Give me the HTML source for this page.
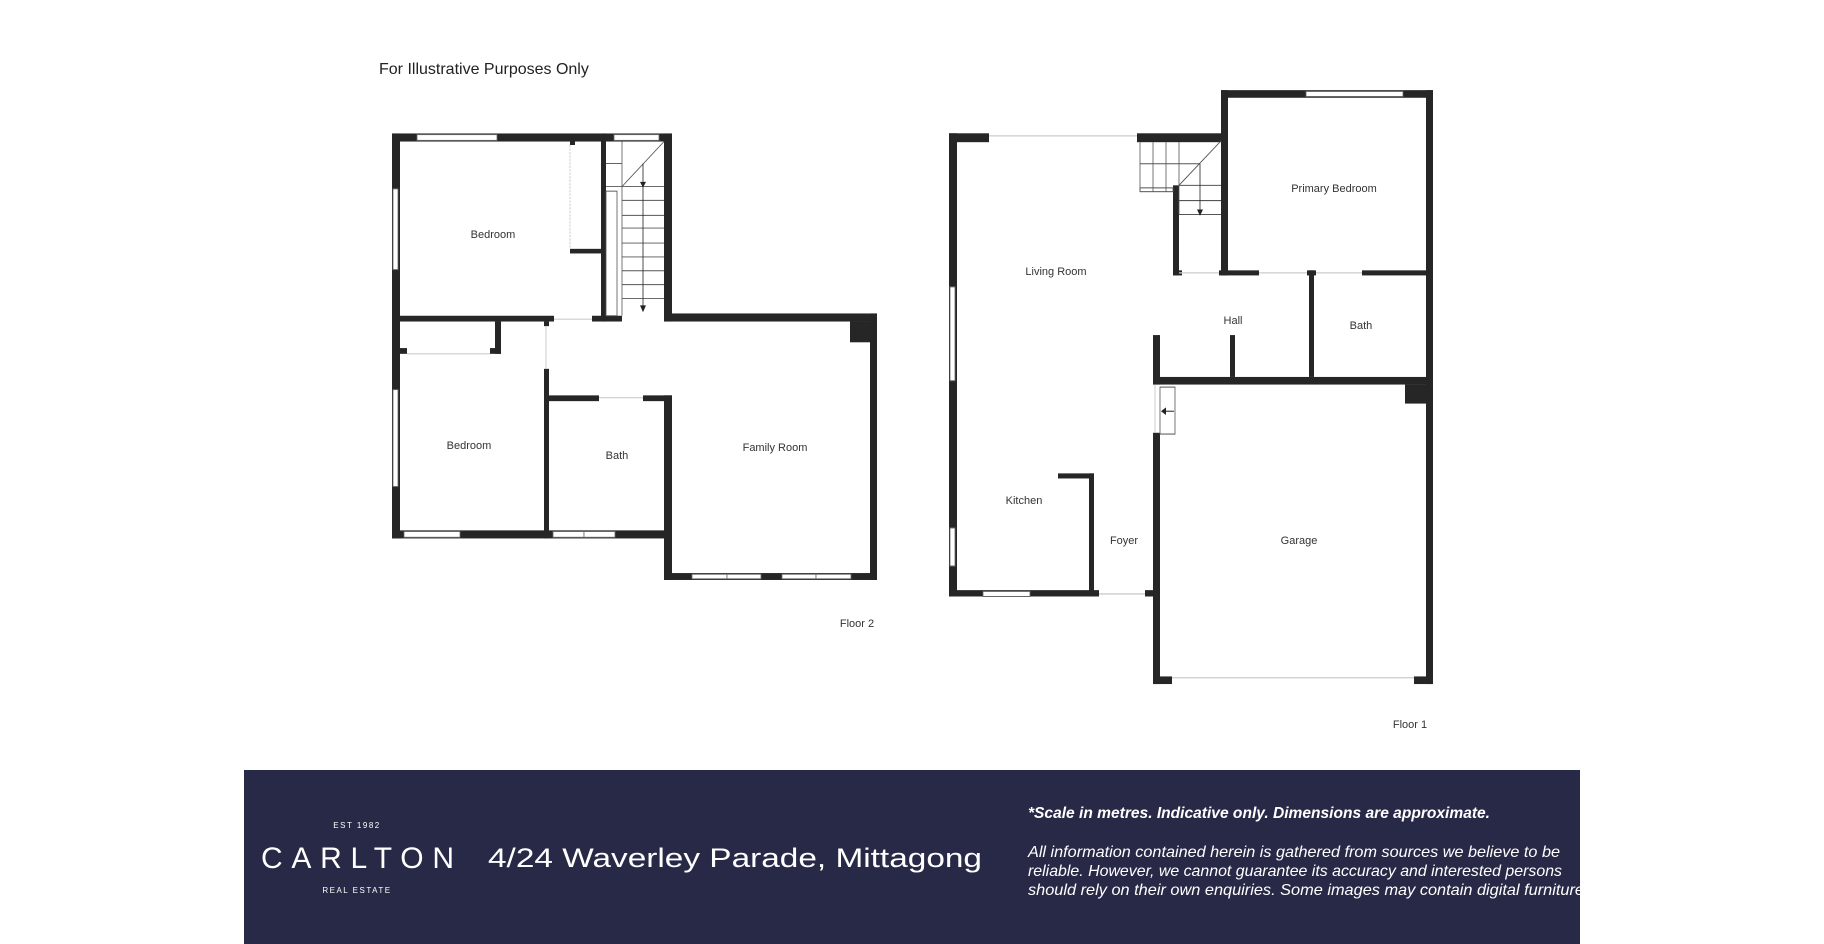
<!DOCTYPE html>
<html><head><meta charset="utf-8"><style>
html,body{margin:0;padding:0;background:#fff;}
body{width:1824px;height:944px;position:relative;overflow:hidden;font-family:"Liberation Sans",sans-serif;}
svg{position:absolute;left:0;top:0;}
.lbl{font-family:"Liberation Sans",sans-serif;font-size:11px;fill:#333;text-anchor:middle;dominant-baseline:middle;}
</style></head><body>
<svg width="1824" height="944" viewBox="0 0 1824 944">
<text x="379" y="74" font-family="Liberation Sans,sans-serif" font-size="16" fill="#222">For Illustrative Purposes Only</text>
<!-- FLOOR 2 -->
<g transform="translate(0,40) scale(1,1.1538) translate(0,-40)">
<g fill="#262626">
<rect x="392" y="121" width="280" height="7"/>
<rect x="392" y="121" width="8" height="351"/>
<rect x="664" y="121" width="8" height="163"/>
<rect x="664" y="277" width="213" height="7"/>
<rect x="870" y="277" width="7" height="231"/>
<rect x="664" y="502" width="213" height="6"/>
<rect x="664" y="348" width="8" height="160"/>
<rect x="850" y="284" width="20" height="18"/>
<rect x="392" y="465" width="280" height="7"/>
<rect x="392" y="279" width="162" height="5"/>
<rect x="592" y="279" width="30" height="5"/>
<rect x="601" y="121" width="5" height="163"/>
<rect x="570" y="221" width="31" height="4"/>
<rect x="570" y="127" width="5" height="4"/>
<rect x="495" y="284" width="6" height="28"/>
<rect x="490" y="307" width="11" height="5"/>
<rect x="400" y="307" width="7" height="5"/>
<rect x="544" y="284" width="5" height="4"/>
<rect x="544" y="325" width="5" height="147"/>
<rect x="544" y="348" width="55" height="5"/>
<rect x="643" y="348" width="29" height="5"/>
</g>
<g fill="#fff" stroke="#666" stroke-width="0.8">
<rect x="417" y="122" width="80" height="5"/><rect x="614" y="122" width="45" height="5"/>
<rect x="393" y="169" width="5" height="70"/><rect x="393" y="343" width="5" height="84"/>
<rect x="404" y="466" width="56" height="5"/>
<rect x="553" y="466" width="31" height="5"/><rect x="584" y="466" width="31" height="5"/>
<rect x="692" y="503" width="35" height="4"/><rect x="727" y="503" width="34" height="4"/>
<rect x="782" y="503" width="34" height="4"/><rect x="816" y="503" width="35" height="4"/>
</g>
<g stroke="#ccc" stroke-width="1" fill="none">
<line x1="570" y1="131" x2="570" y2="221" stroke-dasharray="2,1"/>
<line x1="407" y1="312" x2="490" y2="312"/>
<line x1="554" y1="282" x2="592" y2="282"/>
<line x1="546" y1="288" x2="546" y2="325"/>
<line x1="599" y1="350" x2="643" y2="350"/>
</g>
<g stroke="#555" stroke-width="0.8" fill="none">
<rect x="606" y="171" width="11" height="108"/>
<line x1="622" y1="128" x2="622" y2="279"/>
<line x1="606" y1="147" x2="622" y2="147"/><line x1="606" y1="167" x2="664" y2="167"/>
<line x1="622" y1="167" x2="664" y2="128"/>
<line x1="622" y1="179" x2="664" y2="179"/><line x1="622" y1="192" x2="664" y2="192"/>
<line x1="622" y1="203" x2="664" y2="203"/><line x1="622" y1="216" x2="664" y2="216"/>
<line x1="622" y1="228" x2="664" y2="228"/><line x1="622" y1="240" x2="664" y2="240"/>
<line x1="622" y1="252" x2="664" y2="252"/><line x1="622" y1="264" x2="664" y2="264"/>
<line x1="643" y1="147" x2="643" y2="274" stroke="#222"/>
</g>
<g fill="#222">
<polygon points="640,163 646,163 643,168"/>
<polygon points="640,270 646,270 643,276"/>
</g>
</g>
<!-- FLOOR 1 -->
<g transform="translate(0,80) scale(1,1.269) translate(0,-80)">
<g fill="#262626">
<rect x="949" y="122" width="8" height="365"/>
<rect x="949" y="122" width="40" height="7"/>
<rect x="1137" y="122" width="84" height="7"/>
<rect x="1221" y="88" width="7" height="146"/>
<rect x="1221" y="88" width="212" height="6"/>
<rect x="1426" y="88" width="7" height="468"/>
<rect x="1219" y="230" width="40" height="4"/>
<rect x="1307" y="230" width="9" height="4"/>
<rect x="1362" y="230" width="64" height="4"/>
<rect x="1173" y="163" width="6" height="71"/>
<rect x="1173" y="230" width="9" height="4"/>
<rect x="1309" y="230" width="5" height="84"/>
<rect x="1230" y="281" width="5" height="33"/>
<rect x="1153" y="314" width="280" height="6"/>
<rect x="1405" y="320" width="21" height="15"/>
<rect x="1153" y="281" width="7" height="39"/>
<rect x="1153" y="358" width="7" height="198"/>
<rect x="1153" y="550" width="19" height="6"/>
<rect x="1414" y="550" width="19" height="6"/>
<rect x="949" y="482" width="150" height="5"/>
<rect x="1145" y="482" width="15" height="5"/>
<rect x="1089" y="390" width="5" height="97"/>
<rect x="1058" y="390" width="36" height="4"/>
</g>
<g fill="#fff" stroke="#666" stroke-width="0.8">
<rect x="950" y="243" width="5" height="74"/><rect x="950" y="433" width="5" height="30"/>
<rect x="983" y="483" width="47" height="4"/>
<rect x="1306" y="89" width="97" height="4"/>
</g>
<g stroke="#ccc" stroke-width="1" fill="none">
<line x1="989" y1="124" x2="1137" y2="124"/>
<line x1="1179" y1="232" x2="1219" y2="232"/>
<line x1="1259" y1="232" x2="1307" y2="232"/>
<line x1="1316" y1="232" x2="1362" y2="232"/>
<line x1="1172" y1="551" x2="1414" y2="551"/>
<line x1="1099" y1="485" x2="1145" y2="485"/>
<line x1="1155" y1="320" x2="1155" y2="358"/>
</g>
<g stroke="#555" stroke-width="0.8" fill="none">
<line x1="1140" y1="129" x2="1140" y2="168"/><line x1="1153" y1="129" x2="1153" y2="168"/>
<line x1="1166" y1="129" x2="1166" y2="168"/><line x1="1179" y1="129" x2="1179" y2="186"/>
<line x1="1140" y1="146" x2="1200" y2="146"/>
<rect x="1140" y="165" width="33" height="3"/>
<line x1="1179" y1="163" x2="1221" y2="128"/>
<line x1="1179" y1="163" x2="1221" y2="163"/><line x1="1179" y1="175" x2="1221" y2="175"/>
<line x1="1179" y1="186" x2="1221" y2="186"/>
<line x1="1200" y1="146" x2="1200" y2="182" stroke="#222"/>
<rect x="1160" y="322" width="15" height="37"/>
<line x1="1164" y1="341" x2="1174" y2="341" stroke="#222"/>
</g>
<g fill="#222">
<polygon points="1197,182 1203,182 1200,187"/>
<polygon points="1161,341 1166,338 1166,344"/>
</g>
</g>
<text class="lbl" x="493" y="235">Bedroom</text>
<text class="lbl" x="469" y="446">Bedroom</text>
<text class="lbl" x="617" y="456">Bath</text>
<text class="lbl" x="775" y="448">Family Room</text>
<text class="lbl" x="857" y="624">Floor 2</text>
<text class="lbl" x="1056" y="272">Living Room</text>
<text class="lbl" x="1334" y="189">Primary Bedroom</text>
<text class="lbl" x="1233" y="321">Hall</text>
<text class="lbl" x="1361" y="326">Bath</text>
<text class="lbl" x="1024" y="501">Kitchen</text>
<text class="lbl" x="1124" y="541">Foyer</text>
<text class="lbl" x="1299" y="541">Garage</text>
<text class="lbl" x="1410" y="725">Floor 1</text>
<!-- footer -->
<rect x="244" y="770" width="1336" height="174" fill="#282946"/>
<text x="357" y="828" fill="#fff" font-size="8" text-anchor="middle" letter-spacing="1.5" font-family="Liberation Sans,sans-serif">EST 1982</text>
<text x="261" y="868" fill="#fff" font-size="30" font-family="Liberation Sans,sans-serif" textLength="193" lengthAdjust="spacing">CARLTON</text>
<text x="357" y="893" fill="#fff" font-size="8" text-anchor="middle" letter-spacing="1.5" font-family="Liberation Sans,sans-serif">REAL ESTATE</text>
<text x="488" y="867" fill="#fff" font-size="27" font-family="Liberation Sans,sans-serif" textLength="494" lengthAdjust="spacingAndGlyphs">4/24 Waverley Parade, Mittagong</text>
<text x="1028" y="818" fill="#fff" font-size="16" font-style="italic" font-weight="bold" font-family="Liberation Sans,sans-serif" textLength="462" lengthAdjust="spacingAndGlyphs">*Scale in metres. Indicative only. Dimensions are approximate.</text>
<g fill="#fff" font-size="16" font-style="italic" font-family="Liberation Sans,sans-serif">
<text x="1028" y="857" textLength="532" lengthAdjust="spacingAndGlyphs">All information contained herein is gathered from sources we believe to be</text>
<text x="1028" y="876" textLength="534" lengthAdjust="spacingAndGlyphs">reliable. However, we cannot guarantee its accuracy and interested persons</text>
<text x="1028" y="895" textLength="556" lengthAdjust="spacingAndGlyphs">should rely on their own enquiries. Some images may contain digital furniture</text>
</g>
</svg>
</body></html>
